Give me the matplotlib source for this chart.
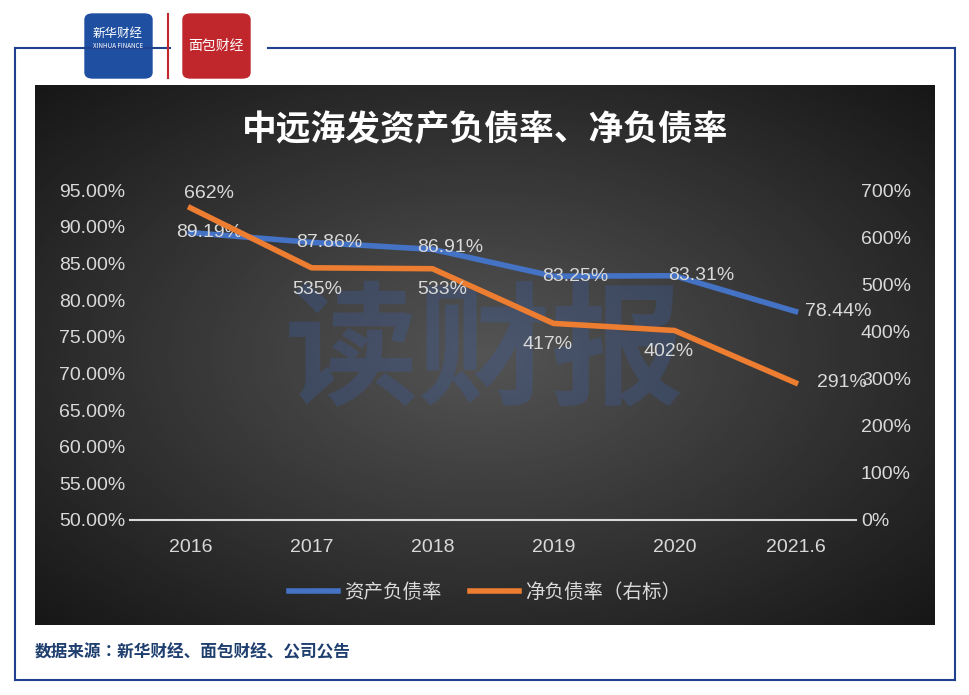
import numpy as np
import matplotlib.pyplot as plt
from matplotlib import font_manager as fm
from matplotlib.patches import FancyBboxPatch
from matplotlib.lines import Line2D

cjk = [f for f in fm.findSystemFonts() if "CJK" in f or "cjk" in f.lower()]
fam = ["DejaVu Sans"]
if cjk:
    cjk.sort(key=lambda p: ("SC" not in p and "sc" not in p.lower(), p))
    fm.fontManager.addfont(cjk[0])
    fam = [fm.FontProperties(fname=cjk[0]).get_name(), "DejaVu Sans"]
plt.rcParams["font.family"] = fam
NUM_FONT = "Liberation Sans"

years = ["2016", "2017", "2018", "2019", "2020", "2021.6"]
asset_debt = [89.19, 87.86, 86.91, 83.25, 83.31, 78.44]
net_debt = [662, 535, 533, 417, 402, 291]

W, H = 969, 695
fig = plt.figure(figsize=(W / 100, H / 100), dpi=100)
fig.patch.set_facecolor("white")


def fx(px):
    return px / W


def fy(py):
    return 1 - py / H


# outer frame
frame = "#1f3f8f"
for xs, ys in [((15, 15), (48, 680)), ((15, 170), (48, 48)), ((268, 955), (48, 48)),
               ((955, 955), (48, 680)), ((15, 955), (680, 680))]:
    fig.add_artist(Line2D([fx(x) for x in xs], [fy(y) for y in ys], color=frame, lw=1.5))
fig.add_artist(Line2D([fx(168), fx(168)], [fy(14), fy(78)], color="#c0272d", lw=1.5))

# logos
fig.add_artist(FancyBboxPatch((fx(85), fy(78)), fx(67), 64 / H, boxstyle="round,pad=0,rounding_size=0.008",
                              transform=fig.transFigure, color="#1f4fa0"))
fig.text(fx(118), fy(33), "新华财经", color="white", fontsize=9, ha="center", va="center")
fig.text(fx(118), fy(46), "XINHUA FINANCE", color="white", fontsize=4.5, ha="center", va="center")
fig.add_artist(FancyBboxPatch((fx(183), fy(78)), fx(67), 64 / H, boxstyle="round,pad=0,rounding_size=0.008",
                              transform=fig.transFigure, color="#c0272d"))
fig.text(fx(216), fy(46), "面包财经", color="white", fontsize=10, ha="center", va="center")

# dark gradient panel
bg = fig.add_axes([fx(35), fy(625), fx(900), 540 / H])
yy, xx = np.mgrid[-1:1:200j, -1:1:300j]
r = np.sqrt(xx ** 2 + yy ** 2)
bg.imshow(0.33 - 0.17 * r, cmap="gray", vmin=0, vmax=1, aspect="auto", extent=[0, 1, 0, 1])
bg.axis("off")
bg.text(0.5, 0.5, "读财报", color="#3a5fa8", alpha=0.3, fontsize=96, fontweight="bold",
        ha="center", va="center", transform=bg.transAxes)

fig.text(fx(485), fy(130), "中远海发资产负债率、净负债率", color="white", fontsize=25,
         fontweight="bold", ha="center", va="center")

ax = fig.add_axes([fx(130), fy(520), fx(726), 330 / H])
ax.patch.set_alpha(0)
x = np.arange(len(years))
ax.plot(x, asset_debt, color="#4472c4", lw=4)
ax.set_ylim(50, 95)
ax.set_yticks(np.arange(50, 96, 5))
ax.set_yticklabels([f"{v:.2f}%" for v in np.arange(50, 96, 5)], fontfamily=NUM_FONT)
ax.set_xlim(-0.5, 5.5)
ax.set_xticks(x)
ax.set_xticklabels(years, fontfamily=NUM_FONT)
ax2 = ax.twinx()
ax2.plot(x, net_debt, color="#ed7d31", lw=4)
ax2.set_ylim(0, 700)
ax2.set_yticks(range(0, 701, 100))
ax2.set_yticklabels([f"{v}%" for v in range(0, 701, 100)], fontfamily=NUM_FONT)
for a in (ax, ax2):
    for s in a.spines.values():
        s.set_visible(False)
    a.tick_params(length=0, colors="#d9d9d9", labelsize=14)
ax.spines["bottom"].set_visible(True)
ax.spines["bottom"].set_color("#d9d9d9")
ax.spines["bottom"].set_linewidth(1.5)
ax.tick_params(axis="x", pad=14)

lab = dict(color="#d9d9d9", fontsize=14, va="center", fontfamily=NUM_FONT)
aoffs = [(0.15, 0), (0.15, 0), (0.15, 0.2), (0.18, 0), (0.22, 0), (0.35, 0)]
for i, v in enumerate(asset_debt):
    dx, dy = aoffs[i]
    ax.text(i + dx, v + dy, f"{v:.2f}%", ha="center", **lab)
noffs = [(0.15, 30), (0.05, -45), (0.08, -45), (-0.05, -45), (-0.05, -45), (0.38, 0)]
for i, v in enumerate(net_debt):
    dx, dy = noffs[i]
    ax2.text(i + dx, v + dy, f"{v}%", ha="center", **lab)

fig.legend([Line2D([], [], color="#4472c4", lw=4), Line2D([], [], color="#ed7d31", lw=4)],
           ["资产负债率", "净负债率（右标）"], loc="center", bbox_to_anchor=(fx(485), fy(592)),
           ncol=2, frameon=False, fontsize=14, labelcolor="#d9d9d9", handlelength=2.5,
           columnspacing=1.5, handletextpad=0.3)

fig.text(fx(35), fy(652), "数据来源：新华财经、面包财经、公司公告", color="#1f3f6f",
         fontsize=12, fontweight="bold", va="center")

fig.savefig("out.png", dpi=100)
